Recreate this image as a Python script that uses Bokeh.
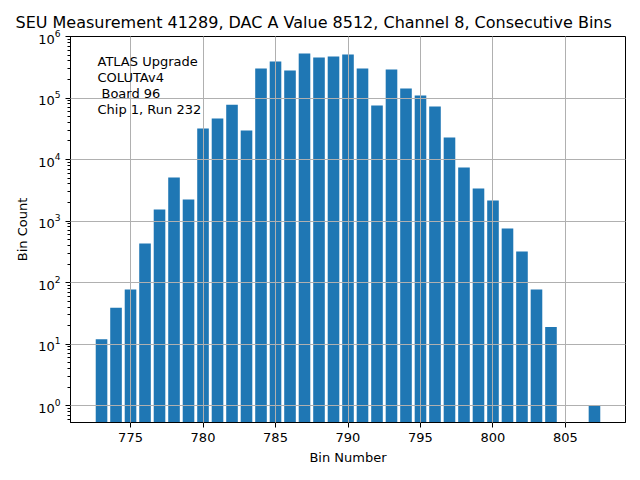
from bokeh.plotting import figure
from bokeh.models import ColumnDataSource, Range1d, FixedTicker, LogTicker, Label
from bokeh.embed import file_html
from bokeh.resources import INLINE

# ---- data ----
bins = [773, 774, 775, 776, 777, 778, 779, 780, 781, 782, 783, 784, 785, 786,
        787, 788, 789, 790, 791, 792, 793, 794, 795, 796, 797, 798, 799, 800,
        801, 802, 803, 804, 807]
counts = [12, 39, 77, 430, 1540, 5100, 2240, 31900, 46400, 78000, 29600,
          302000, 392000, 280000, 530000, 456000, 473000, 510000, 302000,
          75500, 290000, 143000, 110000, 72700, 22800, 7410, 3370, 2150,
          755, 319, 77, 19, 1]
x_ticks = [775, 780, 785, 790, 795, 800, 805]
info_lines = ["ATLAS Upgrade", "COLUTAv4", " Board 96", "Chip 1, Run 232"]
title_text = "SEU Measurement 41289, DAC A Value 8512, Channel 8, Consecutive Bins"

FONT = "DejaVu Sans"
BAR = "#1f77b4"

src = ColumnDataSource(dict(x=bins, top=counts, bottom=[0.01] * len(bins)))

p = figure(width=640, height=480, y_axis_type="log",
           x_range=Range1d(770.86, 809.14), y_range=Range1d(0.53, 1.0e6),
           output_backend="svg", toolbar_location=None,
           min_border_left=70, min_border_right=15, min_border_top=36,
           min_border_bottom=58)
p.title.text = title_text
p.title.text_font = FONT
p.title.text_font_size = "16px"
p.title.text_font_style = "normal"
p.title.text_color = "black"
p.title.align = "left"
p.title.offset = -55

p.vbar(x="x", top="top", bottom="bottom", width=0.8, source=src,
       fill_color=BAR, line_color=None)

p.outline_line_color = "black"
p.outline_line_width = 1
p.background_fill_color = "white"
p.border_fill_color = "white"

for ax in (p.xaxis[0], p.yaxis[0]):
    ax.axis_line_color = "black"
    ax.major_tick_line_color = "black"
    ax.minor_tick_line_color = "black"
    ax.major_tick_out = 5
    ax.major_tick_in = 0
    ax.minor_tick_out = 3
    ax.minor_tick_in = 0
    ax.major_label_text_font = FONT
    ax.major_label_text_font_size = "13px"
    ax.major_label_text_color = "black"
    ax.axis_label_text_font = FONT
    ax.axis_label_text_font_size = "13px"
    ax.axis_label_text_font_style = "normal"
    ax.axis_label_text_color = "black"

p.xaxis.ticker = FixedTicker(ticks=x_ticks)
p.xaxis.axis_label = "Bin Number"
p.yaxis.ticker = LogTicker(desired_num_ticks=7, num_minor_ticks=10)
p.yaxis.axis_label = "Bin Count"

for g in (p.xgrid[0], p.ygrid[0]):
    g.grid_line_color = "#b0b0b0"
    g.grid_line_width = 1
    g.level = "guide"
p.xgrid.ticker = FixedTicker(ticks=x_ticks)

for i, line in enumerate(info_lines):
    indent = 4 * (len(line) - len(line.lstrip()))
    p.add_layout(Label(x=27 + indent, y=386 - 66 + 36 + 5 - 16 * i,
                       x_units="screen", y_units="screen",
                       text=line.strip(), text_font=FONT, text_font_size="13px",
                       text_baseline="alphabetic", text_color="black"))

open("out.html", "w").write(file_html(p, INLINE))
